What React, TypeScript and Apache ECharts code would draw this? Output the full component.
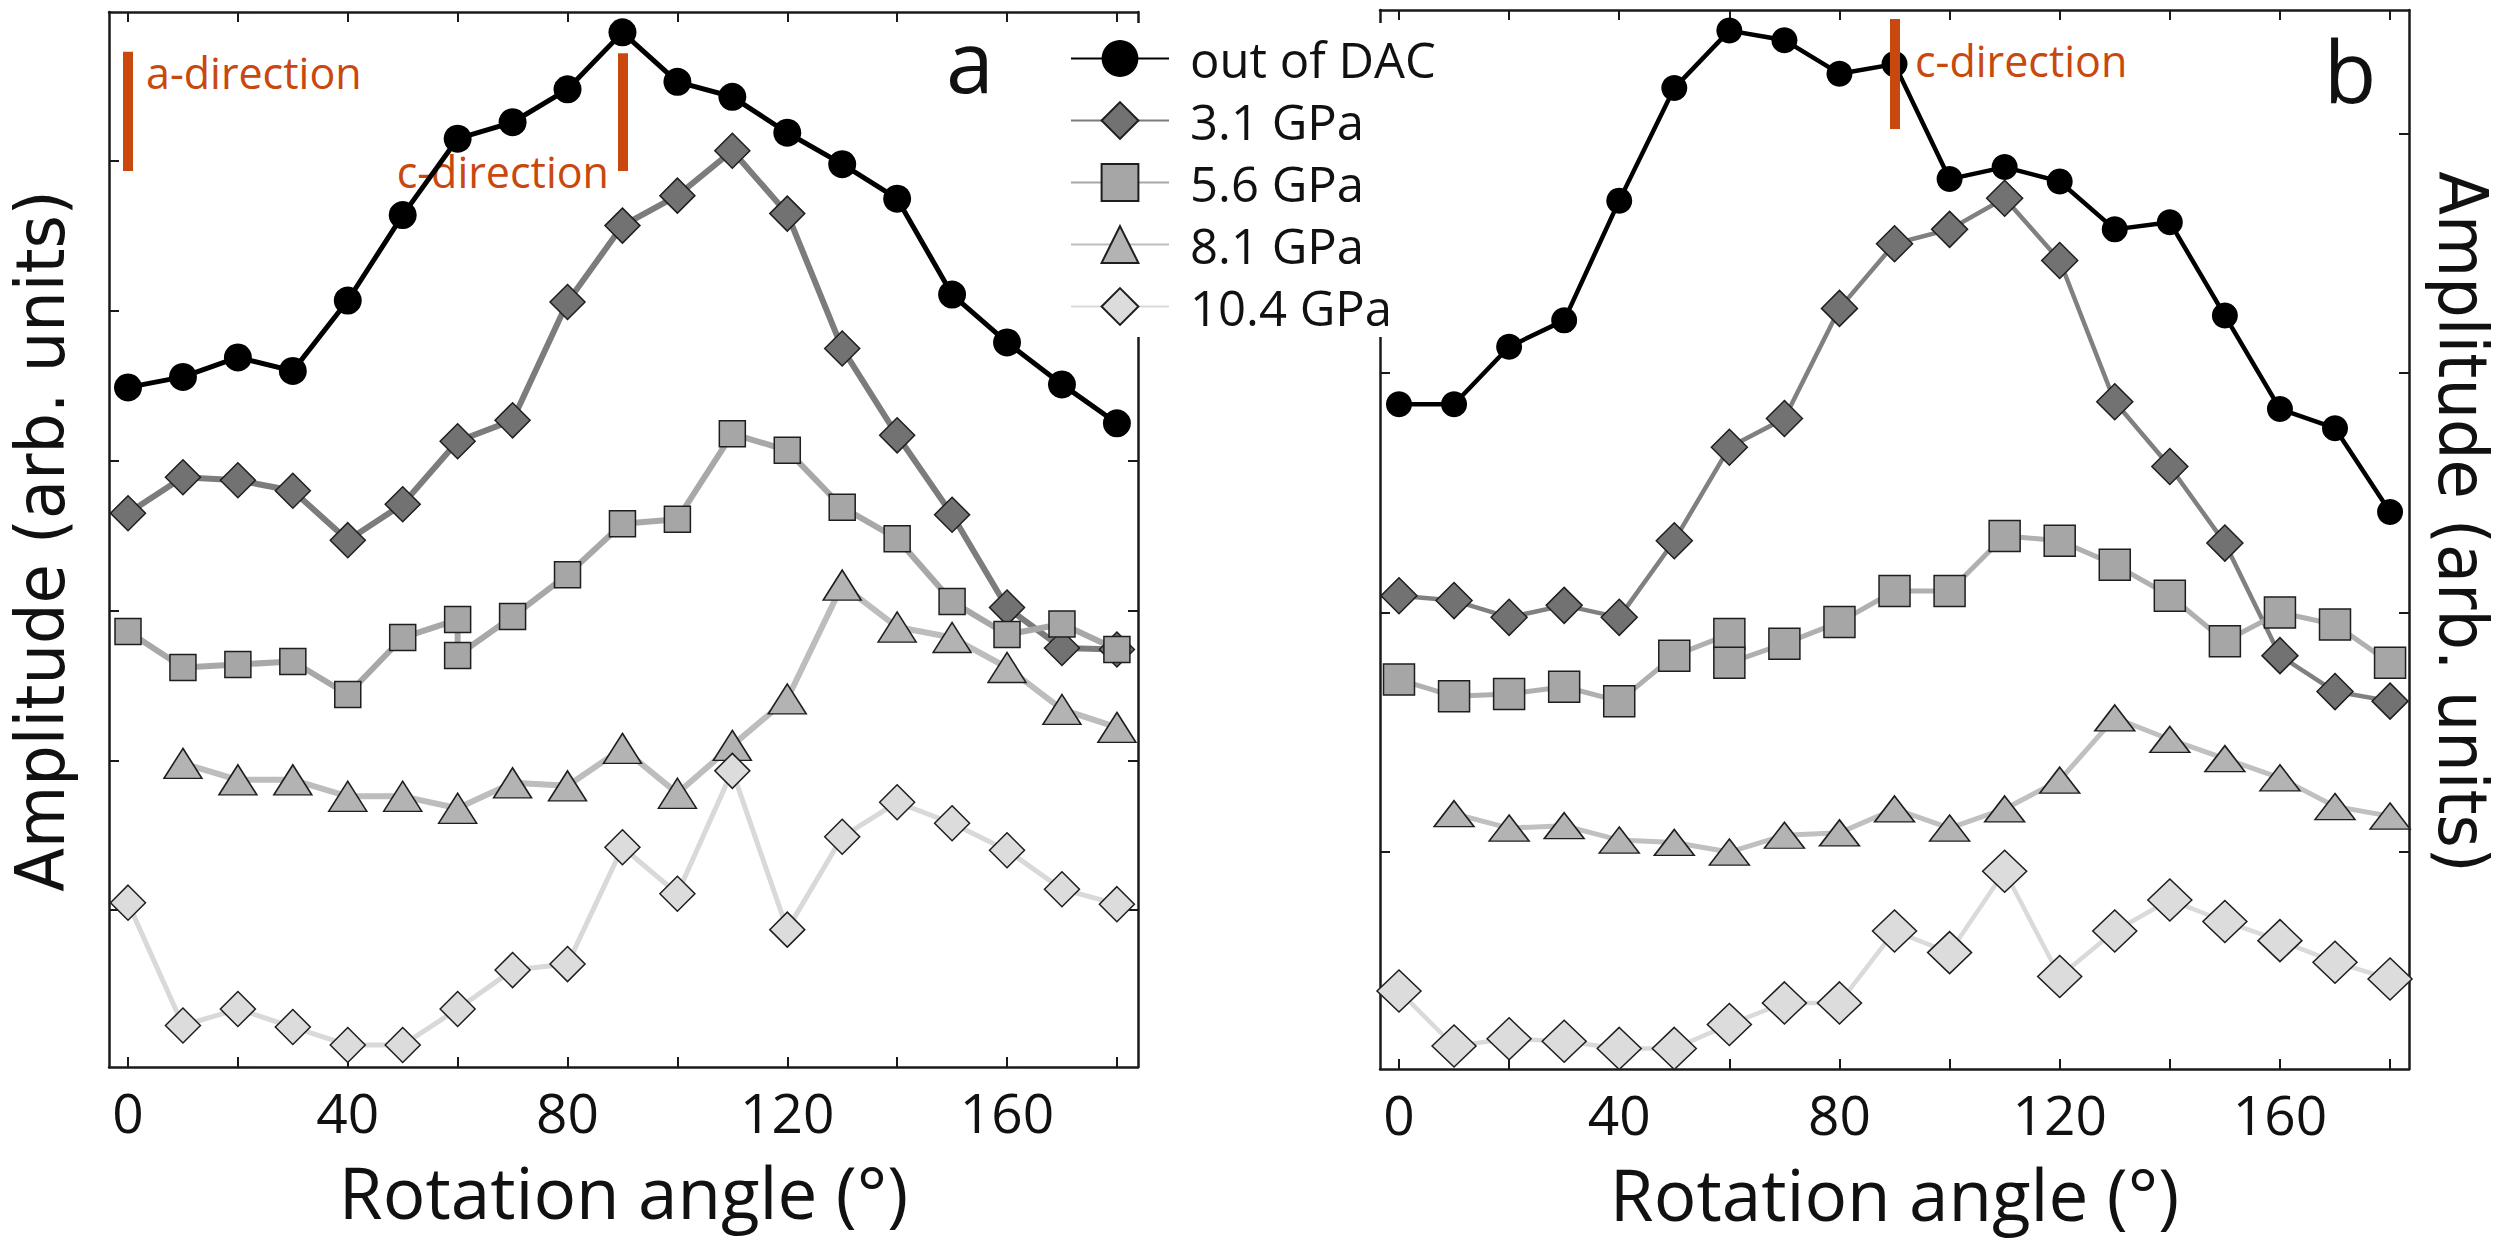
import React, { useEffect, useRef } from "react";
import * as echarts from "echarts";

// ---------- data ----------
const ANGLES = [0, 10, 20, 30, 40, 50, 60, 70, 80, 90, 100, 110, 120, 130, 140, 150, 160, 170, 180];
const ANGLES_56 = [0, 10, 20, 30, 40, 50, 60, 60, 70, 80, 90, 100, 110, 120, 130, 140, 150, 160, 170, 180];
const ANGLES_81 = [10, 20, 30, 40, 50, 60, 70, 80, 90, 100, 110, 120, 130, 140, 150, 160, 170, 180];

const SERIES_NAMES = ["out of DAC", "3.1 GPa", "5.6 GPa", "8.1 GPa", "10.4 GPa"];

// panel a
const A_DAC = [4.49, 4.56, 4.69, 4.6, 5.07, 5.64, 6.15, 6.26, 6.48, 6.86, 6.53, 6.43, 6.19, 5.98, 5.75, 5.11, 4.79, 4.51, 4.25];
const A_31 = [3.65, 3.89, 3.87, 3.8, 3.47, 3.71, 4.13, 4.27, 5.06, 5.57, 5.77, 6.07, 5.65, 4.75, 4.17, 3.64, 3.02, 2.75, 2.74];
const A_56 = [2.86, 2.62, 2.64, 2.66, 2.44, 2.82, 2.94, 2.7, 2.96, 3.24, 3.58, 3.61, 4.18, 4.07, 3.69, 3.48, 3.06, 2.84, 2.91, 2.74];
const A_81 = [1.98, 1.87, 1.87, 1.76, 1.76, 1.68, 1.85, 1.83, 2.08, 1.78, 2.1, 2.41, 3.17, 2.89, 2.82, 2.62, 2.34, 2.22];
const A_104 = [1.05, 0.23, 0.34, 0.22, 0.1, 0.1, 0.34, 0.6, 0.64, 1.42, 1.11, 1.93, 0.87, 1.49, 1.72, 1.58, 1.4, 1.14, 1.04];

// panel b
const B_DAC = [2.87, 2.87, 3.11, 3.22, 3.72, 4.19, 4.43, 4.39, 4.25, 4.29, 3.81, 3.86, 3.8, 3.6, 3.63, 3.24, 2.85, 2.77, 2.42];
const B_31 = [2.07, 2.05, 1.98, 2.03, 1.98, 2.3, 2.69, 2.81, 3.27, 3.54, 3.6, 3.73, 3.47, 2.88, 2.61, 2.29, 1.82, 1.67, 1.63];
const B_56 = [1.72, 1.65, 1.66, 1.69, 1.63, 1.82, 1.91, 1.79, 1.87, 1.96, 2.09, 2.09, 2.32, 2.3, 2.2, 2.07, 1.88, 2.0, 1.95, 1.79];
const B_81 = [1.16, 1.1, 1.11, 1.05, 1.04, 1.0, 1.07, 1.08, 1.18, 1.1, 1.18, 1.3, 1.56, 1.47, 1.39, 1.31, 1.19, 1.15];
const B_104 = [0.42, 0.19, 0.22, 0.21, 0.18, 0.18, 0.28, 0.37, 0.37, 0.67, 0.58, 0.92, 0.48, 0.67, 0.8, 0.71, 0.63, 0.54, 0.47];

// axis ticks
const X_TICKS = [0, 20, 40, 60, 80, 100, 120, 140, 160, 180];
const X_LABELS = [0, 40, 80, 120, 160];
const A_Y_TICKS = [1, 2, 3, 4, 5, 6];
const B_Y_TICKS = [1, 2, 3, 4];

// direction markers: [angle, from, to]
const A_DIR_A = [0, 6.73, 5.935];
const A_DIR_C = [90, 6.72, 5.935];
const B_DIR_C = [90, 4.478, 4.019];

// ---------- styling ----------
const ORANGE = "#c8480e";
const AXIS_COLOR = "#1a1a1a";
const FONT = "Open Sans";

function pairs(xs: number[], ys: number[]) {
  return xs.map((x, i) => [x, ys[i]]);
}

function makeSeries(
  name: string,
  xIdx: number,
  yIdx: number,
  data: number[][],
  st: any
) {
  return {
    type: "line",
    name,
    xAxisIndex: xIdx,
    yAxisIndex: yIdx,
    data,
    symbol: st.symbol,
    symbolSize: st.size,
    showSymbol: true,
    showAllSymbol: true,
    silent: true,
    lineStyle: { color: st.line, width: st.lw },
    itemStyle: {
      color: st.fill,
      borderColor: st.border,
      borderWidth: st.bw,
      opacity: 1,
    },
    emphasis: { disabled: true },
    markLine: st.mark
      ? {
          silent: true,
          symbol: ["none", "none"],
          label: { show: false },
          emphasis: { disabled: true },
          lineStyle: { color: ORANGE, width: 10, type: "solid", cap: "butt", opacity: 1 },
          data: st.mark.map((m: number[]) => [
            { coord: [m[0], m[1]] },
            { coord: [m[0], m[2]] },
          ]),
        }
      : undefined,
  };
}

function axesFor(gridIndex: number, xmin: number, xmax: number, ymin: number, ymax: number, yTicks: number[]) {
  const line = { show: true, onZero: false, lineStyle: { color: AXIS_COLOR, width: 2.5 } };
  const tick = (vals: number[]) => ({
    show: true,
    inside: true,
    length: 10,
    customValues: vals,
    lineStyle: { color: AXIS_COLOR, width: 2 },
  });
  const xs = [
    {
      type: "value",
      gridIndex,
      position: "bottom",
      min: xmin,
      max: xmax,
      axisLine: line,
      axisTick: tick(X_TICKS),
      splitLine: { show: false },
      axisLabel: {
        show: true,
        customValues: X_LABELS,
        margin: 17,
        fontFamily: FONT,
        fontSize: 55,
        color: "#111",
      },
      name: "Rotation angle (°)",
      nameLocation: "middle",
      nameGap: 89,
      nameTextStyle: { fontFamily: FONT, fontSize: 71, color: "#111" },
    },
    {
      type: "value",
      gridIndex,
      position: "top",
      min: xmin,
      max: xmax,
      axisLine: line,
      axisTick: tick(X_TICKS),
      splitLine: { show: false },
      axisLabel: { show: false },
    },
  ];
  const ys = [
    {
      type: "value",
      gridIndex,
      position: "left",
      min: ymin,
      max: ymax,
      axisLine: line,
      axisTick: tick(yTicks),
      splitLine: { show: false },
      axisLabel: { show: false },
    },
    {
      type: "value",
      gridIndex,
      position: "right",
      min: ymin,
      max: ymax,
      axisLine: line,
      axisTick: tick(yTicks),
      splitLine: { show: false },
      axisLabel: { show: false },
    },
  ];
  return { xs, ys };
}

export default function App() {
  const ref = useRef<HTMLDivElement>(null);

  useEffect(() => {
    if (!ref.current) return;
    const chart = echarts.init(ref.current, null, { renderer: "svg" });

    const a = axesFor(0, -3.46, 183.84, -0.047, 6.996, A_Y_TICKS);
    const b = axesFor(1, -3.45, 183.44, 0.094, 4.516, B_Y_TICKS);

    const BORDER = "#1e1e1e";
    const aStyles = [
      { symbol: "circle", size: 28, fill: "#000", border: "#000", bw: 0, line: "#000", lw: 5, mark: [A_DIR_A, A_DIR_C] },
      { symbol: "diamond", size: 35, fill: "#727272", border: BORDER, bw: 1.5, line: "#7c7c7c", lw: 6 },
      { symbol: "rect", size: 26, fill: "#a6a6a6", border: BORDER, bw: 1.5, line: "#a8a8a8", lw: 6 },
      { symbol: "triangle", size: [38, 30], fill: "#b3b3b3", border: BORDER, bw: 1.5, line: "#bdbdbd", lw: 6 },
      { symbol: "diamond", size: 35, fill: "#dcdcdc", border: BORDER, bw: 1.5, line: "#d9d9d9", lw: 5 },
    ];
    const bStyles = [
      { symbol: "circle", size: 26, fill: "#000", border: "#000", bw: 0, line: "#000", lw: 4.5, mark: [B_DIR_C] },
      { symbol: "diamond", size: 36, fill: "#727272", border: BORDER, bw: 1.5, line: "#808080", lw: 4.5 },
      { symbol: "rect", size: 31, fill: "#a6a6a6", border: BORDER, bw: 1.5, line: "#b0b0b0", lw: 5 },
      { symbol: "triangle", size: [40, 26], fill: "#b3b3b3", border: BORDER, bw: 1.5, line: "#c0c0c0", lw: 5 },
      { symbol: "diamond", size: [44, 42], fill: "#dcdcdc", border: BORDER, bw: 1.5, line: "#dadada", lw: 4.5 },
    ];

    const aData = [
      pairs(ANGLES, A_DAC),
      pairs(ANGLES, A_31),
      pairs(ANGLES_56, A_56),
      pairs(ANGLES_81, A_81),
      pairs(ANGLES, A_104),
    ];
    const bData = [
      pairs(ANGLES, B_DAC),
      pairs(ANGLES, B_31),
      pairs(ANGLES_56, B_56),
      pairs(ANGLES_81, B_81),
      pairs(ANGLES, B_104),
    ];

    const series: any[] = [];
    SERIES_NAMES.forEach((n, i) => series.push(makeSeries(n, 0, 0, aData[i], aStyles[i])));
    SERIES_NAMES.forEach((n, i) => series.push(makeSeries(n, 2, 2, bData[i], bStyles[i])));

    const option: any = {
      animation: false,
      backgroundColor: "#ffffff",
      textStyle: { fontFamily: FONT },
      grid: [
        { left: 109, top: 12, width: 1029, height: 1055, containLabel: false },
        { left: 1380, top: 10, width: 1029, height: 1059, containLabel: false },
      ],
      xAxis: [...a.xs, ...b.xs],
      yAxis: [...a.ys, ...b.ys],
      legend: {
        show: true,
        orient: "vertical",
        left: 1065,
        top: 23,
        padding: [11, 10, 6, 5],
        backgroundColor: "#ffffff",
        itemWidth: 98,
        itemHeight: 46,
        itemGap: 13,
        selectedMode: false,
        data: SERIES_NAMES,
        textStyle: {
          fontFamily: FONT,
          fontSize: 49,
          color: "#111",
          lineHeight: 46,
          padding: [0, 0, 0, 16],
        },
      },
      graphic: [
        {
          type: "text",
          x: 41,
          y: 541,
          rotation: Math.PI / 2,
          scaleX: 0.94,
          style: {
            text: "Amplitude (arb. units)",
            font: '68px "DejaVu Sans"',
            fill: "#111",
            textAlign: "center",
            textVerticalAlign: "middle",
          },
        },
        {
          type: "text",
          x: 2462,
          y: 522,
          rotation: -Math.PI / 2,
          scaleX: 0.94,
          style: {
            text: "Amplitude (arb. units)",
            font: '68px "DejaVu Sans"',
            fill: "#111",
            textAlign: "center",
            textVerticalAlign: "middle",
          },
        },
        {
          type: "text",
          x: 146,
          y: 72,
          style: {
            text: "a-direction",
            font: '43px "Open Sans"',
            fill: ORANGE,
            textAlign: "left",
            textVerticalAlign: "middle",
          },
        },
        {
          type: "text",
          x: 609,
          y: 171,
          style: {
            text: "c-direction",
            font: '43px "Open Sans"',
            fill: ORANGE,
            textAlign: "right",
            textVerticalAlign: "middle",
          },
        },
        {
          type: "text",
          x: 1915,
          y: 60,
          style: {
            text: "c-direction",
            font: '43px "Open Sans"',
            fill: ORANGE,
            textAlign: "left",
            textVerticalAlign: "middle",
          },
        },
        {
          type: "text",
          x: 970,
          y: 59,
          style: {
            text: "a",
            font: '86px "Open Sans"',
            fill: "#111",
            textAlign: "center",
            textVerticalAlign: "middle",
          },
        },
        {
          type: "text",
          x: 2350,
          y: 69,
          style: {
            text: "b",
            font: '86px "Open Sans"',
            fill: "#111",
            textAlign: "center",
            textVerticalAlign: "middle",
          },
        },
      ],
      series,
    };

    chart.setOption(option);
    return () => chart.dispose();
  }, []);

  return (
    <div
      ref={ref}
      style={{ position: "fixed", left: 0, top: 0, width: 2514, height: 1241, background: "#fff" }}
    />
  );
}
